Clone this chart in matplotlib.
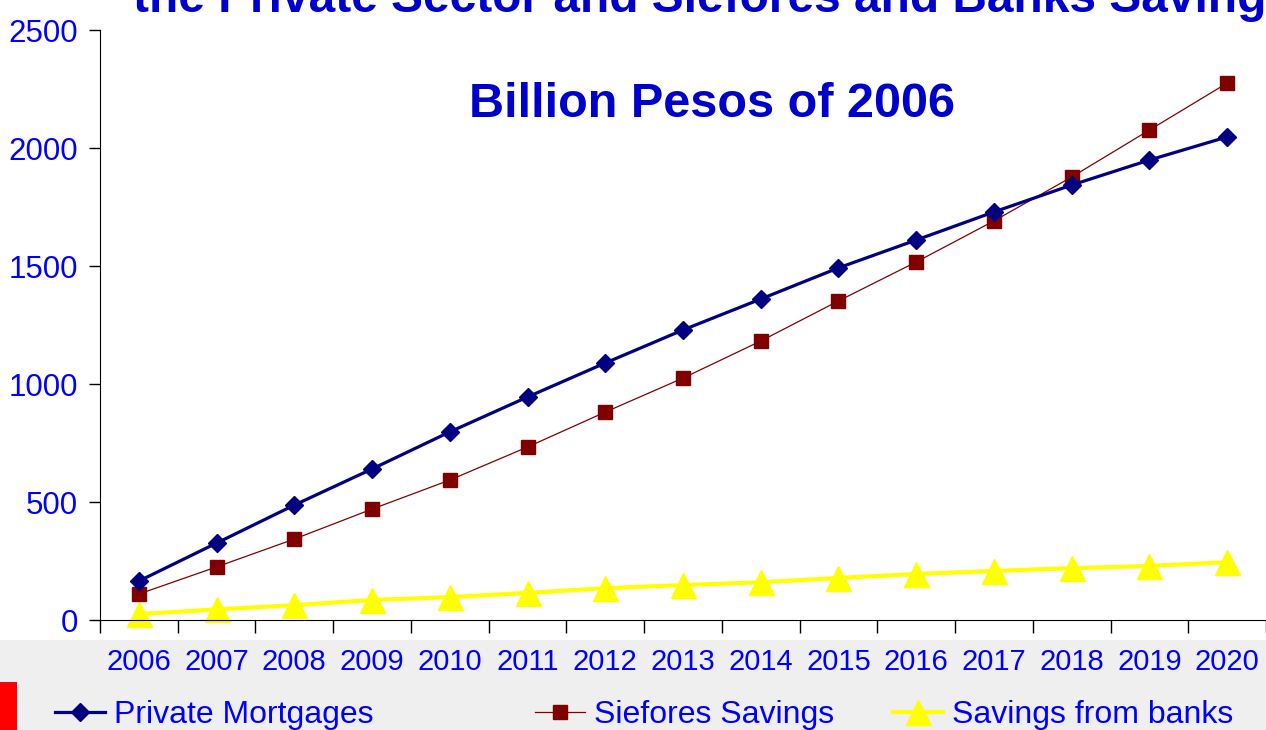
import numpy as np
import matplotlib.pyplot as plt
from matplotlib.patches import Rectangle
from matplotlib.ticker import FixedLocator

years = ["2006", "2007", "2008", "2009", "2010", "2011", "2012", "2013",
         "2014", "2015", "2016", "2017", "2018", "2019", "2020"]
private_mortgages = [165, 326, 487, 640, 797, 945, 1089, 1229,
                     1360, 1492, 1610, 1729, 1843, 1949, 2047]
siefores_savings = [110, 225, 343, 470, 593, 733, 881, 1025,
                    1182, 1352, 1517, 1691, 1877, 2076, 2275]
bank_savings = [25, 45, 63, 85, 97, 115, 135, 148,
                160, 178, 195, 208, 220, 229, 245]

blue = "#0000FF"
plt.rcParams['font.family'] = ['Liberation Sans', 'DejaVu Sans']

fig = plt.figure(figsize=(12.66, 7.30), dpi=100)
fig.patch.set_facecolor("white")
# grey band behind the category labels and legend
fig.patches.append(Rectangle((0, 0), 1, 90/730, transform=fig.transFigure,
                             facecolor="#EFEFEF", edgecolor="none", zorder=-5))
fig.patches.append(Rectangle((0, 0), 17/1266, 48/730, transform=fig.transFigure,
                             facecolor="#FF0000", edgecolor="none", zorder=-4))

ax = fig.add_axes([100/1266, 110/730, 1166/1266, 590/730])
ax.set_facecolor("none")
x = np.arange(len(years))

l1, = ax.plot(x, private_mortgages, color="#000080", lw=2.3, marker="D", ms=9,
              label="Private Mortgages", clip_on=False, zorder=4)
l2, = ax.plot(x, siefores_savings, color="#800000", lw=0.9, marker="s", ms=10,
              label="Siefores Savings", clip_on=False, zorder=3)
l3, = ax.plot(x, bank_savings, color="#FFFF00", lw=3, marker="^", ms=18,
              label="Savings from banks", clip_on=False, zorder=2)

ax.set_xlim(-0.5, len(years) - 0.5)
ax.set_ylim(0, 2500)
ax.set_yticks([0, 500, 1000, 1500, 2000, 2500])
ax.set_xticks(x)
ax.set_xticklabels(years)
ax.xaxis.set_minor_locator(FixedLocator(np.arange(-0.5, len(years), 1.0)))
ax.tick_params(axis="x", which="major", length=0, pad=20, labelsize=21,
               labelcolor=blue)
ax.tick_params(axis="x", which="minor", length=9, width=1, direction="out")
ax.tick_params(axis="y", length=8, width=1, pad=8, labelsize=22.5,
               labelcolor=blue)
for s in ["top", "right"]:
    ax.spines[s].set_visible(False)

# upper title is cut by the top edge, as in the original slide
fig.text(133/1266, 1 - 12/730, "the Private Sector and Siefores and Banks Saving",
         fontsize=34.5, fontweight="bold", color="#0000CC", va="baseline", ha="left")
fig.text(712/1266, 1 - 117/730, "Billion Pesos of 2006",
         fontsize=35, fontweight="bold", color="#0000CC", va="baseline", ha="center")

# legend entries sit at fixed spots along the bottom band
for line, x0 in [(l1, 55), (l2, 535), (l3, 893)]:
    leg = fig.legend(handles=[line], loc="center left",
                     bbox_to_anchor=(x0/1266, 15/730), frameon=False,
                     fontsize=23, handlelength=1.56, handletextpad=0.28,
                     borderpad=0, borderaxespad=0)
    for t in leg.get_texts():
        t.set_color(blue)

fig.savefig("out.png", dpi=100)
